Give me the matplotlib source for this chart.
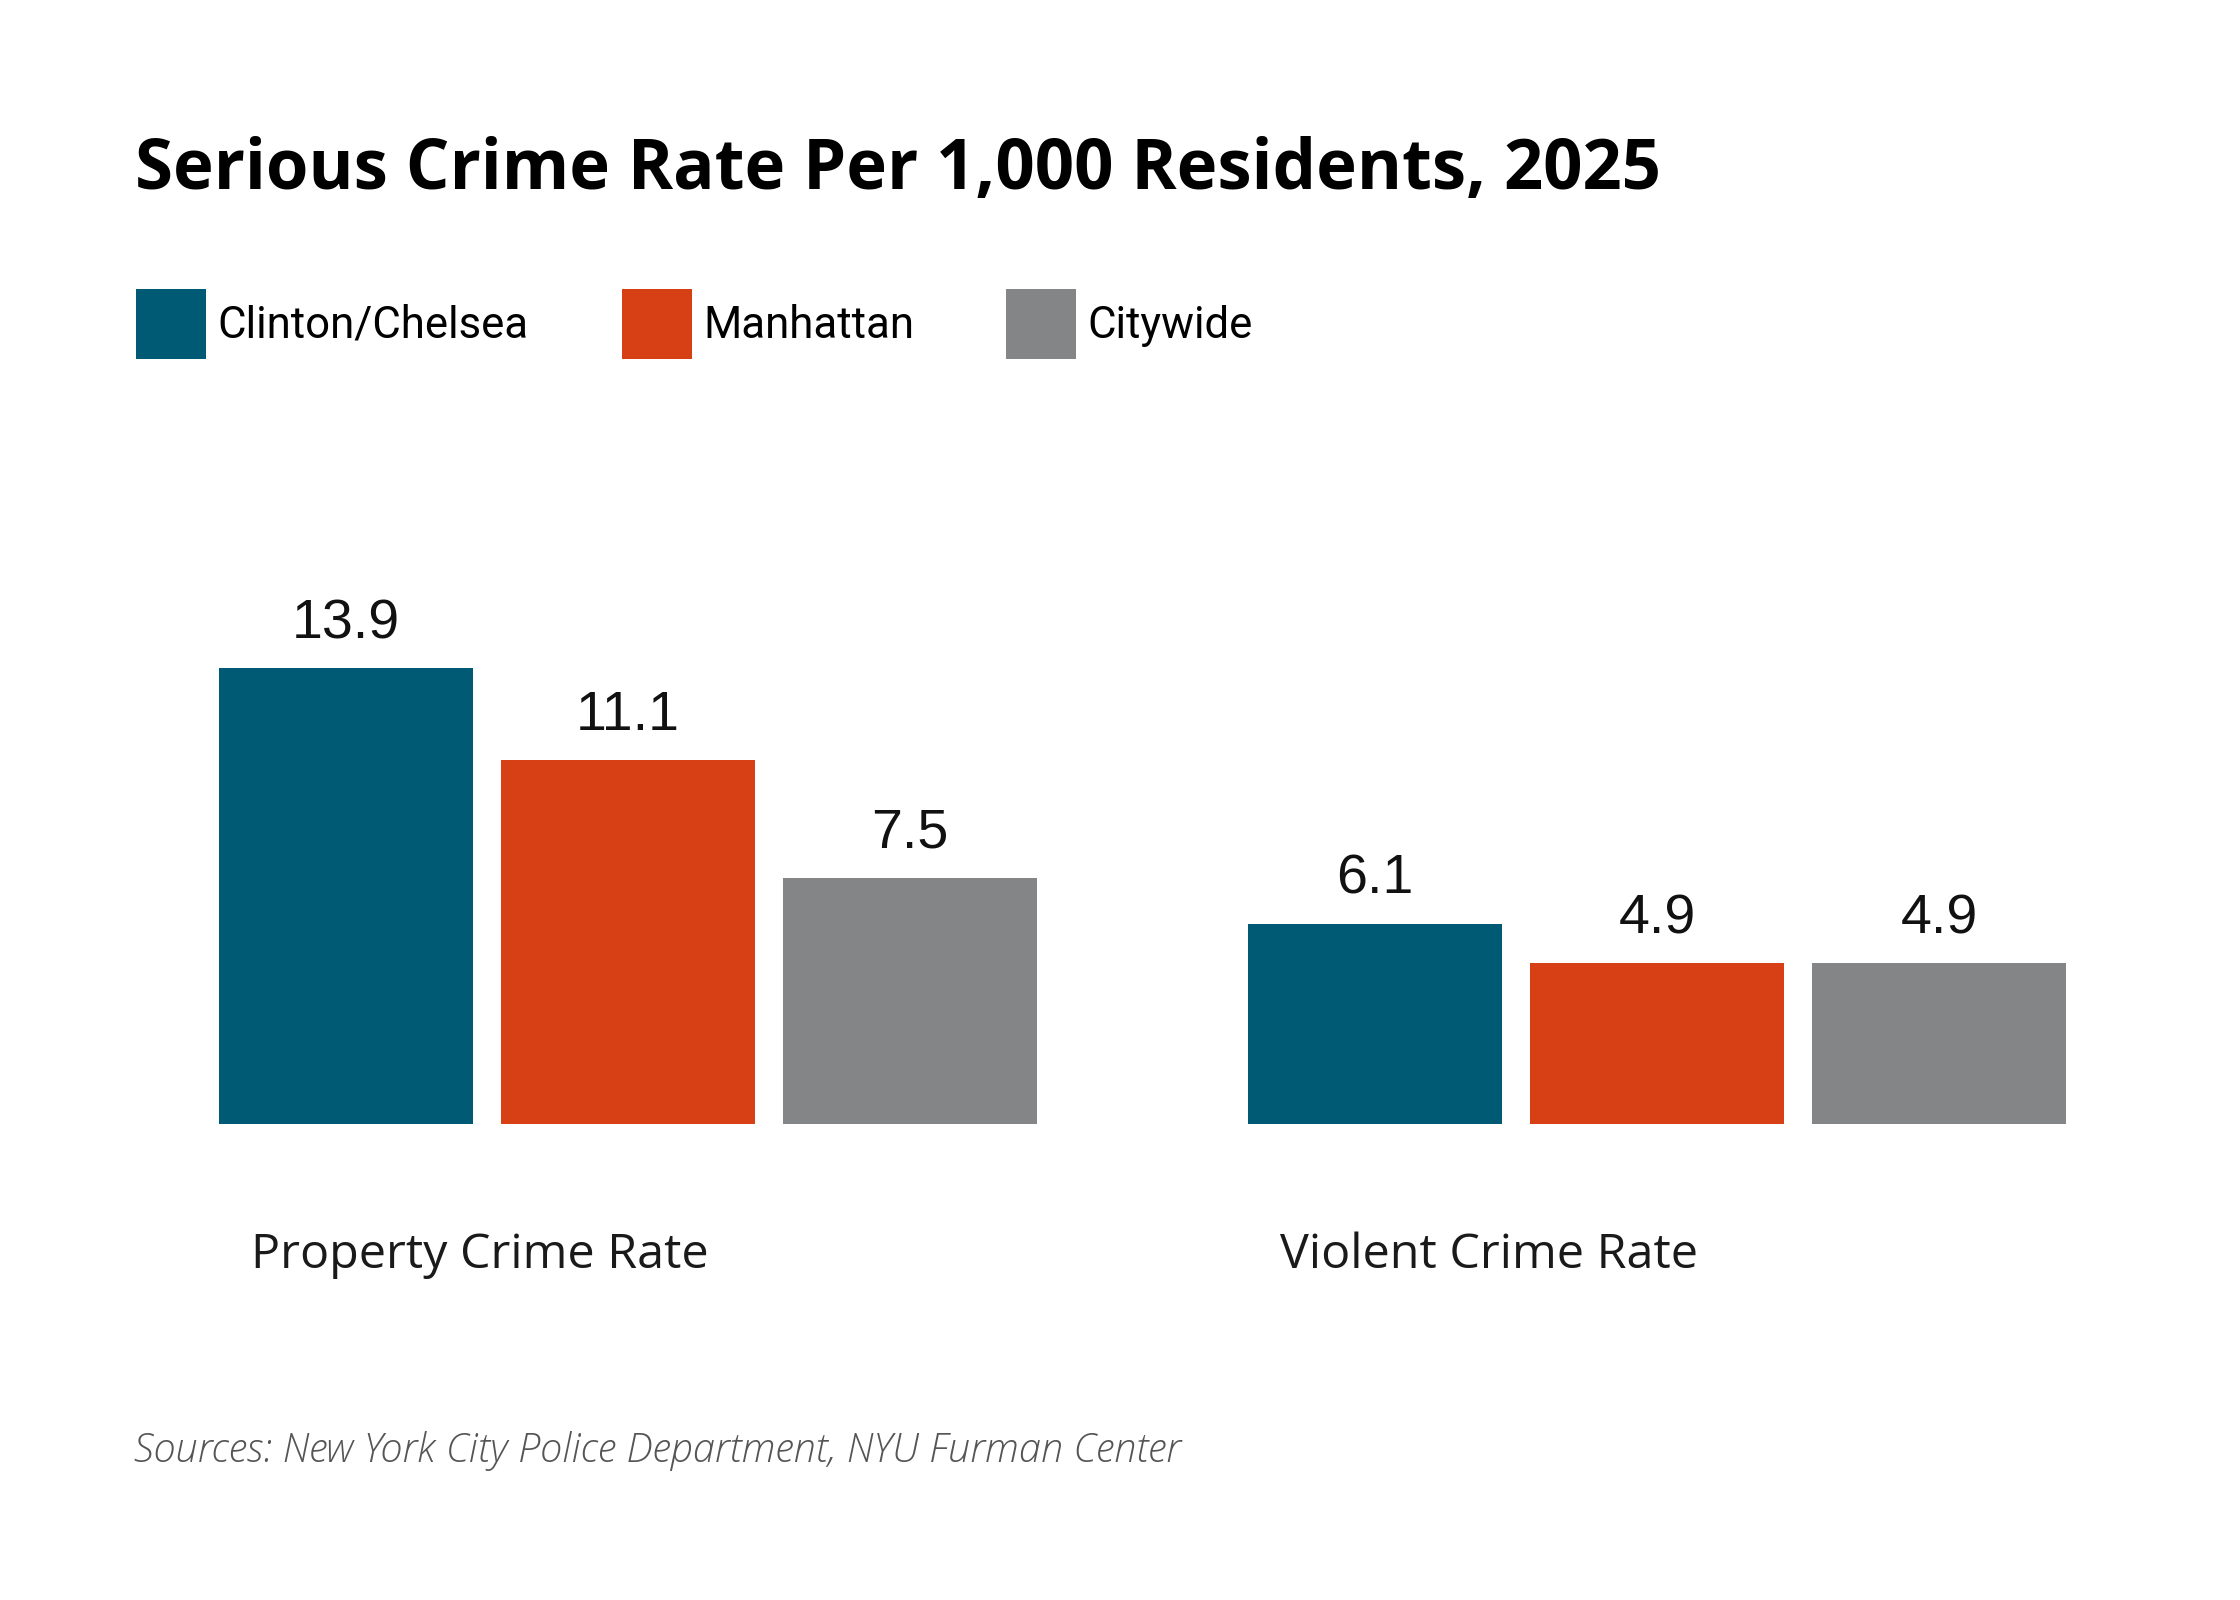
import matplotlib
matplotlib.use("Agg")
import matplotlib.pyplot as plt
from matplotlib.patches import Rectangle

groups = ["Property Crime Rate", "Violent Crime Rate"]
series = ["Clinton/Chelsea", "Manhattan", "Citywide"]
values = [[13.9, 11.1, 7.5],
          [6.1, 4.9, 4.9]]
colors = ["#005a74", "#d74014", "#848587"]

W, H = 2240, 1600
fig = plt.figure(figsize=(22.4, 16), dpi=100)
fig.patch.set_facecolor("white")

# one axes over the whole figure, limits chosen so bars land where they should
px_per_group = 1029.0
px_per_unit = 32.78
x0_px = 628.0            # centre of first group
base_px = 1600 - 1123.7  # baseline from bottom
ax = fig.add_axes([0, 0, 1, 1])
ax.set_xlim(-x0_px / px_per_group, (W - x0_px) / px_per_group)
ax.set_ylim(-base_px / px_per_unit, (H - base_px) / px_per_unit)
ax.axis("off")

bw = 254 / px_per_group
step = 282 / px_per_group
for g, vals in enumerate(values):
    for j, v in enumerate(vals):
        xc = g + (j - 1) * step
        ax.bar(xc, v, width=bw, color=colors[j], linewidth=0)
        ax.text(xc, v + 30 / px_per_unit, f"{v:.1f}", ha="center", va="baseline",
                fontsize=40, family="Liberation Sans", color="#111111")


def ftext(x, y, s, **kw):
    fig.text(x / W, 1 - y / H, s, **kw)


ftext(135, 189, "Serious Crime Rate Per 1,000 Residents, 2025", ha="left",
      va="baseline", fontsize=49.5, fontweight="bold", family="Open Sans", color="black")

leg_x = [136, 622, 1006]
for j, name in enumerate(series):
    fig.patches.append(Rectangle((leg_x[j] / W, 1 - 359 / H), 70 / W, 70 / H,
                                 transform=fig.transFigure, color=colors[j], linewidth=0))
    ftext(leg_x[j] + 81, 338, name, ha="left", va="baseline", fontsize=31.5,
          family="Roboto", color="black")

for g, name in enumerate(groups):
    left_px = 250.7 + g * px_per_group
    ftext(left_px, 1268, name, ha="left", va="baseline", fontsize=34.8,
          family="Open Sans", color="#1a1a1a")

ftext(134, 1462, "Sources: New York City Police Department, NYU Furman Center",
      ha="left", va="baseline", fontsize=28.6, style="italic", fontweight="light",
      family="Open Sans", color="#555555")

fig.savefig("out.png", dpi=100, facecolor="white")
